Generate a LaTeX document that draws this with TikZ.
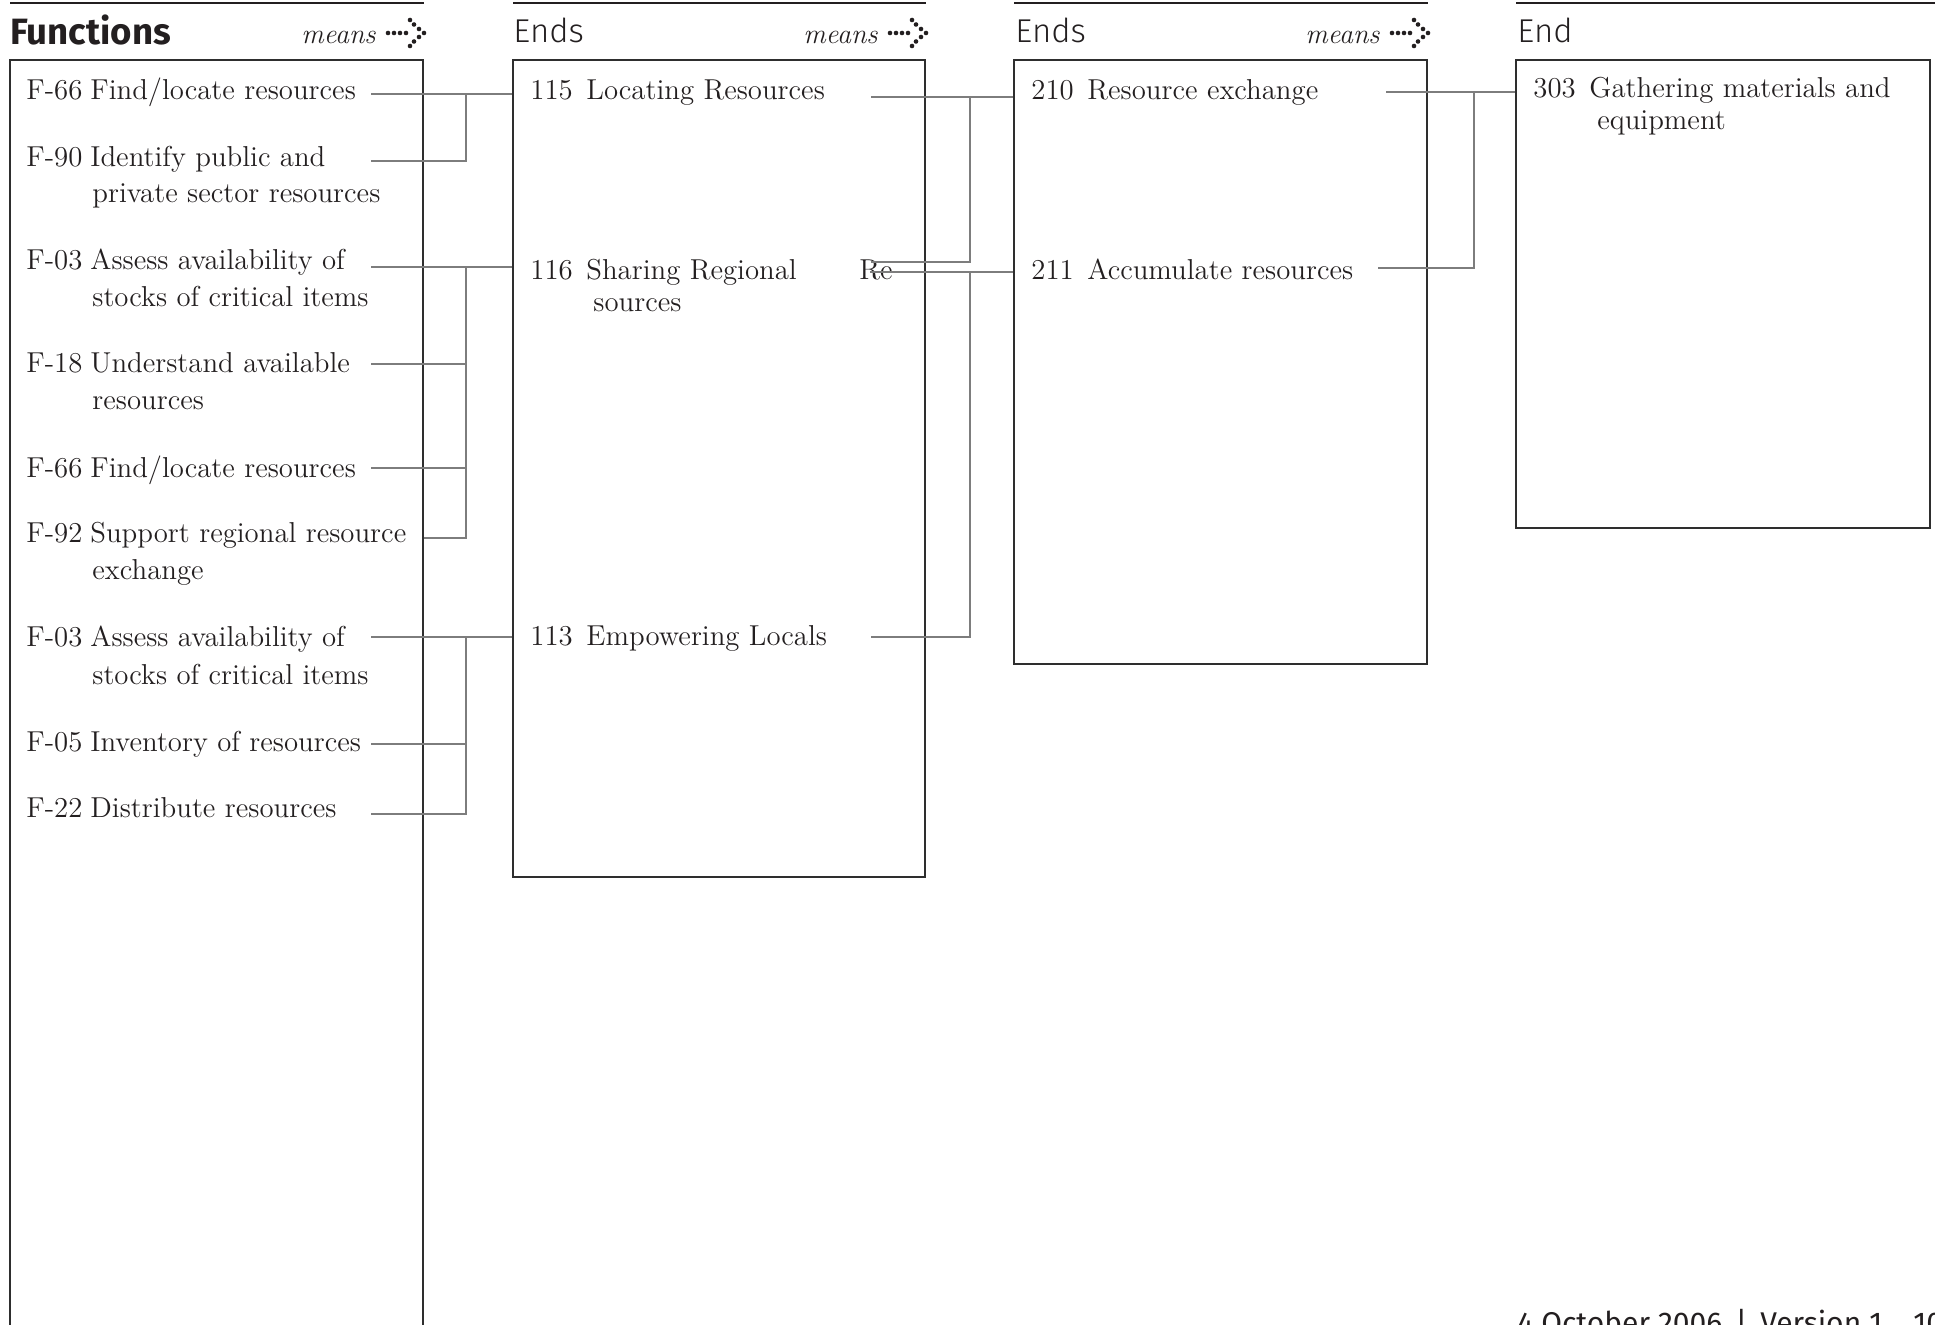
\documentclass[tikz,border=0pt]{standalone}
\usepackage{fontspec}
\usetikzlibrary{fit}
\newfontfamily\hdsans{Fira Sans}
\newfontfamily\hdlight{Fira Sans Light}
\definecolor{ink}{HTML}{231F20}
\definecolor{boxc}{HTML}{2E2E2E}
\definecolor{connc}{HTML}{7D7D7D}
\tikzset{
  dotarrow/.pic={
    \foreach \p in {(-36,0),(-30,0),(-24,0),(-18,0),(-14,-13),(-10,-8.5),(-5,-4),(0,0),(-5,4),(-10,8.5),(-14,13)}
      \fill[ink] \p circle (1.15pt);
  }
}
\begin{document}
\begin{tikzpicture}[x=0.5pt,y=-0.5pt,
  txt/.style={anchor=base west, inner sep=0pt, text=ink, font=\fontsize{14.4}{16}\selectfont},
  hdb/.style={anchor=base west, inner sep=0pt, text=ink, font=\hdsans\bfseries\fontsize{18.3}{20}\selectfont},
  hdl/.style={anchor=base west, inner sep=0pt, text=ink, font=\hdlight\fontsize{16.5}{20}\selectfont},
  meansl/.style={anchor=base east, inner sep=0pt, text=ink, font=\fontsize{14}{16}\selectfont\itshape},
  boxr/.style={draw=boxc, line width=0.8pt, inner sep=0pt},
  conn/.style={draw=connc, line width=1.3pt},
  rulel/.style={draw=ink, line width=0.75pt},
  foot/.style={anchor=base west, inner sep=0pt, text=ink, font=\hdsans\fontsize{15}{18}\selectfont}
]
\useasboundingbox (0,0) rectangle (1935,1325);
\clip (0,0) rectangle (1935,1325);

% header rules
\coordinate (r1a) at (10,3);   \coordinate (r1b) at (424,3);
\coordinate (r2a) at (513,3);  \coordinate (r2b) at (926,3);
\coordinate (r3a) at (1014,3); \coordinate (r3b) at (1428,3);
\coordinate (r4a) at (1516,3); \coordinate (r4b) at (1935,3);
\draw[rulel] (r1a) -- (r1b);
\draw[rulel] (r2a) -- (r2b);
\draw[rulel] (r3a) -- (r3b);
\draw[rulel] (r4a) -- (r4b);

% headers
\node[hdb] (h1) at (10,45) {Functions};
\node[hdl] (h2) at (513,43) {Ends};
\node[hdl] (h3) at (1015,43) {Ends};
\node[hdl] (h4) at (1517,43) {End};
\node[meansl] (m1) at (376,44) {means};
\node[meansl] (m2) at (878,44) {means};
\node[meansl] (m3) at (1380,44) {means};
\pic at (424,33) {dotarrow};
\pic at (926,33) {dotarrow};
\pic at (1428,33) {dotarrow};

% boxes
\node[boxr, fit={(10,60) (423,1345)}] (B1) {};
\node[boxr, fit={(513,60) (925,877)}] (B2) {};
\node[boxr, fit={(1014,60) (1427,664)}] (B3) {};
\node[boxr, fit={(1516,60) (1930,528)}] (B4) {};

% column 1 texts
\node[txt] (l1) at (26,100) {F-66};
\node[txt] (t1) at (90,100) {Find/locate resources};
\node[txt] (l2) at (26,167) {F-90};
\node[txt] (t2) at (90,167) {Identify public and};
\node[txt] (t2b) at (92,203) {private sector resources};
\node[txt] (l3) at (26,270) {F-03};
\node[txt] (t3) at (90,270) {Assess availability of};
\node[txt] (t3b) at (92,307) {stocks of critical items};
\node[txt] (l4) at (26,373) {F-18};
\node[txt] (t4) at (90,373) {Understand available};
\node[txt] (t4b) at (92,410) {resources};
\node[txt] (l5) at (26,478) {F-66};
\node[txt] (t5) at (90,478) {Find/locate resources};
\node[txt] (l6) at (26,543) {F-92};
\node[txt] (t6) at (90,543) {Support regional resource};
\node[txt] (t6b) at (92,580) {exchange};
\node[txt] (l7) at (26,647) {F-03};
\node[txt] (t7) at (90,647) {Assess availability of};
\node[txt] (t7b) at (92,685) {stocks of critical items};
\node[txt] (l8) at (26,752) {F-05};
\node[txt] (t8) at (90,752) {Inventory of resources};
\node[txt] (l9) at (26,818) {F-22};
\node[txt] (t9) at (90,818) {Distribute resources};

% column 2 texts
\node[txt] (l10) at (530,100) {115};
\node[txt] (t10) at (586,100) {Locating Resources};
\node[txt] (l11) at (530,280) {116};
\node[txt] (t11) at (586,280) {Sharing Regional};
\node[txt] (t11r) at (859,280) {Re};
\node[txt] (t11b) at (593,312) {sources};
\node[txt] (l12) at (530,646) {113};
\node[txt] (t12) at (586,646) {Empowering Locals};

% column 3 texts
\node[txt] (l13) at (1031,100) {210};
\node[txt] (t13) at (1087,100) {Resource exchange};
\node[txt] (l14) at (1031,280) {211};
\node[txt] (t14) at (1087,280) {Accumulate resources};

% column 4 texts
\node[txt] (l15) at (1533,98) {303};
\node[txt] (t15) at (1589,98) {Gathering materials and};
\node[txt] (t15b) at (1597,130) {equipment};

% connector coordinates, column 1 -> 2
\coordinate (s1) at (371,94);
\coordinate (s2) at (371,161);
\coordinate (s3) at (371,267);
\coordinate (s4) at (371,364);
\coordinate (s5) at (371,468);
\coordinate (s6) at (B1.east |- 0,538);
\coordinate (s7) at (371,637);
\coordinate (s8) at (371,744);
\coordinate (s9) at (371,814);
\coordinate (v1) at (466,94);
\coordinate (v2) at (466,267);
\coordinate (v3) at (466,637);

\draw[conn] (s1) -- (B2.west |- s1);
\draw[conn] (s2) -- (s2 -| v1) -- (v1);
\draw[conn] (s3) -- (B2.west |- s3);
\draw[conn] (s4) -- (s4 -| v2);
\draw[conn] (s5) -- (s5 -| v2);
\draw[conn] (s6) -- (s6 -| v2) -- (v2);
\draw[conn] (s7) -- (B2.west |- s7);
\draw[conn] (s8) -- (s8 -| v3);
\draw[conn] (s9) -- (s9 -| v3) -- (v3);

% column 2 -> 3
\coordinate (s10) at (871,97);
\coordinate (s11) at (871,262);
\coordinate (sRe) at (870,272);
\coordinate (s12) at (871,637);
\coordinate (w1) at (970,97);
\coordinate (w2) at (970,272);
\draw[conn] (s10) -- (B3.west |- s10);
\draw[conn] (s11) -- (s11 -| w1) -- (w1);
\draw[conn] (sRe) -- (B3.west |- sRe);
\draw[conn] (s12) -- (s12 -| w2) -- (w2);

% column 3 -> 4
\coordinate (s13) at (1386,92);
\coordinate (s14) at (1378,268);
\coordinate (u1) at (1474,92);
\draw[conn] (s13) -- (B4.west |- s13);
\draw[conn] (s14) -- (s14 -| u1) -- (u1);

% footer
\node[foot] (ft) at (1517,1333) {4 October 2006 \,|\, Version 1};
\node[foot] (pg) at (1913,1333) {10};
\end{tikzpicture}
\end{document}
